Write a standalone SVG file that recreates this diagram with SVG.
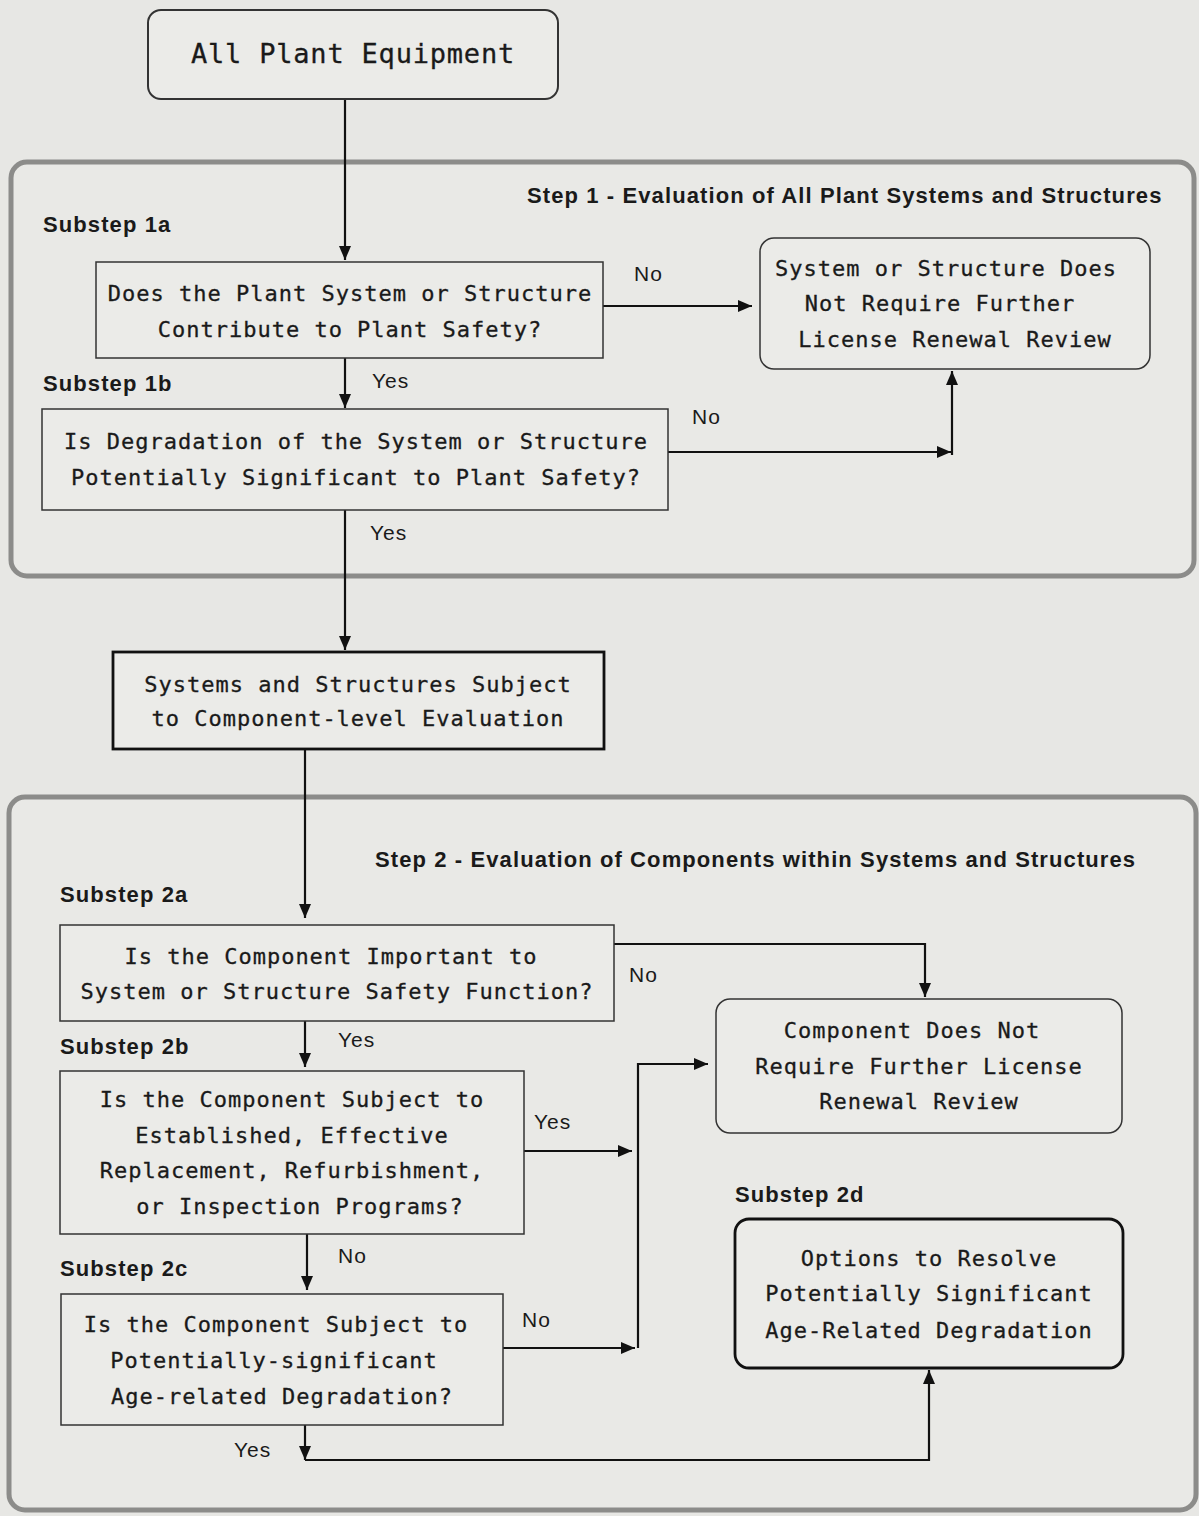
<svg xmlns="http://www.w3.org/2000/svg" width="1199" height="1516" viewBox="0 0 1199 1516">
<defs>
<marker id="ah" viewBox="0 0 14 12" refX="14" refY="6" markerWidth="14" markerHeight="12" markerUnits="userSpaceOnUse" orient="auto">
<path d="M0,0 L14,6 L0,12 Z" fill="#111"/>
</marker>
<style>
.bg{fill:#e7e7e4}
.panel{fill:#e9e9e6;stroke:#8c8c8a;stroke-width:5}
.box{fill:#ebebe8;stroke:#333;stroke-width:1.5}
.boxb{fill:#ebebe8;stroke:#111;stroke-width:2.8}
.t{font-family:"DejaVu Sans Mono",monospace;font-size:22px;letter-spacing:1px;fill:#1a1a1a;stroke:#1a1a1a;stroke-width:0.3;text-anchor:middle}
.tb{font-family:"DejaVu Sans Mono",monospace;font-size:27px;letter-spacing:0.8px;fill:#1a1a1a;stroke:#1a1a1a;stroke-width:0.3;text-anchor:middle}
.lb{font-family:"Liberation Sans",Arial,sans-serif;font-size:22px;letter-spacing:1.1px;font-weight:bold;fill:#1a1a1a}
.yn{font-family:"Liberation Sans",Arial,sans-serif;font-size:21px;letter-spacing:1px;fill:#1a1a1a}
.c{fill:none;stroke:#111;stroke-width:2.2}
</style>
</defs>
<rect class="bg" x="0" y="0" width="1199" height="1516"/>
<g id="step1">
<rect class="panel" x="11" y="162" width="1183" height="414" rx="16"/>
<text class="lb" x="527" y="203">Step 1 - Evaluation of All Plant Systems and Structures</text>
<text class="lb" x="43" y="232">Substep 1a</text>
<text class="lb" x="43" y="391">Substep 1b</text>
</g>
<g id="step2">
<rect class="panel" x="9" y="797" width="1187" height="713" rx="16"/>
<text class="lb" x="375" y="867">Step 2 - Evaluation of Components within Systems and Structures</text>
<text class="lb" x="60" y="902">Substep 2a</text>
<text class="lb" x="60" y="1054">Substep 2b</text>
<text class="lb" x="60" y="1276">Substep 2c</text>
<text class="lb" x="735" y="1202">Substep 2d</text>
</g>
<g id="connectors">
<line class="c" x1="345" y1="99" x2="345" y2="260" marker-end="url(#ah)"/>
<line class="c" x1="603" y1="306" x2="752" y2="306" marker-end="url(#ah)"/>
<line class="c" x1="345" y1="358" x2="345" y2="408" marker-end="url(#ah)"/>
<line class="c" x1="668" y1="452" x2="951" y2="452" marker-end="url(#ah)"/>
<line class="c" x1="952" y1="455" x2="952" y2="371" marker-end="url(#ah)"/>
<line class="c" x1="345" y1="510" x2="345" y2="650" marker-end="url(#ah)"/>
<line class="c" x1="305" y1="749" x2="305" y2="918" marker-end="url(#ah)"/>
<polyline class="c" points="614,944 925,944 925,997" marker-end="url(#ah)"/>
<line class="c" x1="305" y1="1021" x2="305" y2="1067" marker-end="url(#ah)"/>
<line class="c" x1="524" y1="1151" x2="632" y2="1151" marker-end="url(#ah)"/>
<polyline class="c" points="638,1348 638,1064 708,1064" marker-end="url(#ah)"/>
<line class="c" x1="307" y1="1234" x2="307" y2="1290" marker-end="url(#ah)"/>
<line class="c" x1="503" y1="1348" x2="635" y2="1348" marker-end="url(#ah)"/>
<line class="c" x1="305" y1="1425" x2="305" y2="1460" marker-end="url(#ah)"/>
<polyline class="c" points="305,1460 929,1460 929,1370" marker-end="url(#ah)"/>
<text class="yn" x="634" y="281">No</text>
<text class="yn" x="372" y="388">Yes</text>
<text class="yn" x="692" y="424">No</text>
<text class="yn" x="370" y="540">Yes</text>
<text class="yn" x="629" y="982">No</text>
<text class="yn" x="338" y="1047">Yes</text>
<text class="yn" x="534" y="1129">Yes</text>
<text class="yn" x="338" y="1263">No</text>
<text class="yn" x="522" y="1327">No</text>
<text class="yn" x="234" y="1457">Yes</text>
</g>
<g id="n-all">
<rect class="box" x="148" y="10" width="410" height="89" rx="13" style="stroke-width:2"/>
<text class="tb" x="353" y="63">All Plant Equipment</text>
</g>
<g id="n-1a">
<rect class="box" x="96" y="262" width="507" height="96"/>
<text class="t" x="350" y="301">Does the Plant System or Structure</text>
<text class="t" x="350" y="337">Contribute to Plant Safety?</text>
</g>
<g id="n-sysno">
<rect class="box" x="760" y="238" width="390" height="131" rx="14"/>
<text class="t" x="946" y="276">System or Structure Does</text>
<text class="t" x="940" y="311">Not Require Further</text>
<text class="t" x="955" y="347">License Renewal Review</text>
</g>
<g id="n-1b">
<rect class="box" x="42" y="409" width="626" height="101"/>
<text class="t" x="356" y="449">Is Degradation of the System or Structure</text>
<text class="t" x="356" y="485">Potentially Significant to Plant Safety?</text>
</g>
<g id="n-subj">
<rect class="boxb" x="113" y="652" width="491" height="97"/>
<text class="t" x="358" y="692">Systems and Structures Subject</text>
<text class="t" x="358" y="726">to Component-level Evaluation</text>
</g>
<g id="n-2a">
<rect class="box" x="60" y="925" width="554" height="96"/>
<text class="t" x="331" y="964">Is the Component Important to</text>
<text class="t" x="337" y="999">System or Structure Safety Function?</text>
</g>
<g id="n-compno">
<rect class="box" x="716" y="999" width="406" height="134" rx="14"/>
<text class="t" x="912" y="1038">Component Does Not</text>
<text class="t" x="919" y="1074">Require Further License</text>
<text class="t" x="919" y="1109">Renewal Review</text>
</g>
<g id="n-2b">
<rect class="box" x="60" y="1071" width="464" height="163"/>
<text class="t" x="292" y="1107">Is the Component Subject to</text>
<text class="t" x="292" y="1143">Established, Effective</text>
<text class="t" x="292" y="1178">Replacement, Refurbishment,</text>
<text class="t" x="300" y="1214">or Inspection Programs?</text>
</g>
<g id="n-2c">
<rect class="box" x="61" y="1294" width="442" height="131"/>
<text class="t" x="276" y="1332">Is the Component Subject to</text>
<text class="t" x="274" y="1368">Potentially-significant</text>
<text class="t" x="282" y="1404">Age-related Degradation?</text>
</g>
<g id="n-2d">
<rect class="boxb" x="735" y="1219" width="388" height="149" rx="14"/>
<text class="t" x="929" y="1266">Options to Resolve</text>
<text class="t" x="929" y="1301">Potentially Significant</text>
<text class="t" x="929" y="1338">Age-Related Degradation</text>
</g>
</svg>
